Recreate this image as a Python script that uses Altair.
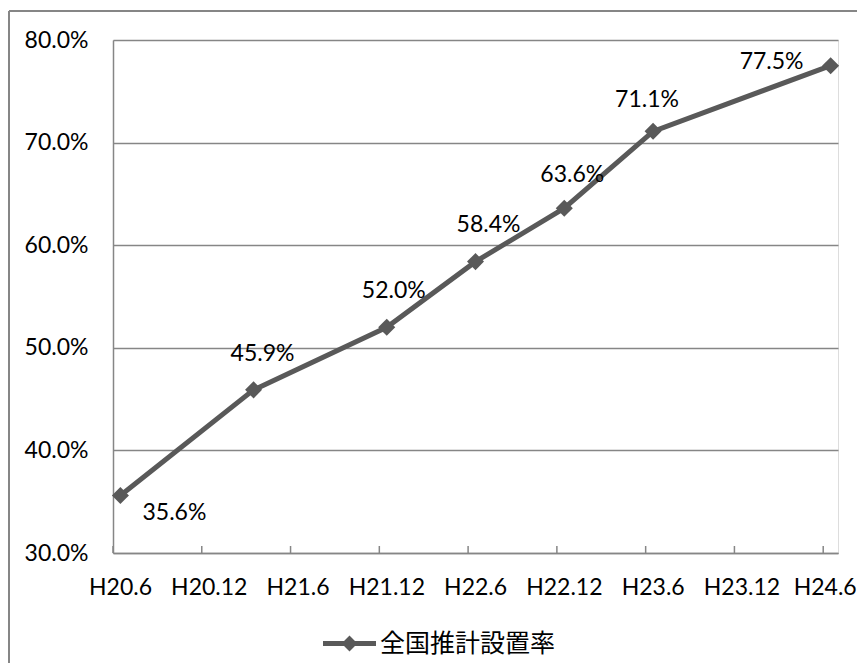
import altair as alt
import pandas as pd

# Data
series_name = "全国推計設置率"
months = [0, 9, 18, 24, 30, 36, 48]          # months since H20.6
rates = [35.6, 45.9, 52.0, 58.4, 63.6, 71.1, 77.5]
tick_months = [0, 6, 12, 18, 24, 30, 36, 42, 48]
tick_labels = ["H20.6", "H20.12", "H21.6", "H21.12", "H22.6", "H22.12",
               "H23.6", "H23.12", "H24.6"]
y_ticks = [30, 40, 50, 60, 70, 80]

df = pd.DataFrame({"month": months, "rate": rates, "series": series_name})
ticks_df = pd.DataFrame({"month": tick_months})

W, H = 725, 513
PAD = {"left": 105, "top": 32, "right": 19, "bottom": 110}
LINE = "#595959"
GRID = "#868686"
NUM_FONT = "Lato"
JP_FONT = "Noto Sans CJK JP"
FS = 23

label_js = "[" + ",".join("'%s'" % t for t in tick_labels) + "]"
last_tick = tick_months[-1]

x_scale = alt.Scale(domain=[0, 49], nice=False, zero=False)
y_scale = alt.Scale(domain=[30, 80], nice=False, zero=False)

base = alt.Chart(df).transform_calculate(xm="datum.month + 0.5")

x_enc = alt.X("xm:Q", scale=x_scale, title=None,
              axis=alt.Axis(values=tick_months, labelExpr=label_js + "[round(datum.value/6)]",
                            grid=False, ticks=False, domainColor=GRID, domainWidth=1.5,
                            labelFont=NUM_FONT, labelFontSize=FS, labelColor="black",
                            labelPadding=34, labelBaseline="middle",
                            labelAlign=alt.condition("datum.value == %d" % last_tick,
                                                     alt.value("right"), alt.value("center")),
                            labelOffset=alt.condition("datum.value == %d" % last_tick,
                                                      alt.value(33), alt.value(7)),
                            labelOverlap=False, labelFlush=False))
y_enc = alt.Y("rate:Q", scale=y_scale, title=None,
              axis=alt.Axis(values=y_ticks, labelExpr="format(datum.value, '.1f') + '%'",
                            grid=True, gridColor=GRID, gridWidth=1.5, ticks=False,
                            domainColor=GRID, domainWidth=1.5,
                            labelFont=NUM_FONT, labelFontSize=FS, labelColor="black",
                            labelPadding=25))

line = base.mark_line(strokeWidth=5).encode(
    x=x_enc, y=y_enc,
    color=alt.Color("series:N", scale=alt.Scale(range=[LINE]),
                    legend=alt.Legend(
                        title=None, orient="none", legendX=210, legendY=577,
                        symbolType="M-1,-0.09L1,-0.09L1,0.09L-1,0.09Z M0,-0.3L0.3,0L0,0.3L-0.3,0Z",
                        symbolSize=2809, symbolFillColor=LINE, symbolStrokeColor=LINE,
                        symbolStrokeWidth=0, labelFont=JP_FONT, labelFontSize=25,
                        labelColor="black", labelOffset=4, labelLimit=400)),
)

points = base.mark_point(shape="diamond", filled=True, size=290, opacity=1,
                         color=LINE).encode(x="xm:Q", y="rate:Q")

# per-point label offsets (Excel "right" label placement as drawn)
offsets = [(54, 17), (9, -36), (7, -36), (13, -37), (8, -33), (-6, -31), (-59, -4)]
labels = []
for m, (dx, dy) in zip(months, offsets):
    labels.append(
        base.transform_filter(alt.datum.month == m)
        .transform_calculate(lbl="format(datum.rate, '.1f') + '%'")
        .mark_text(dx=dx, dy=dy, font=NUM_FONT, fontSize=FS, color="black", baseline="middle")
        .encode(x="xm:Q", y="rate:Q", text="lbl:N")
    )

tick_marks = alt.Chart(ticks_df).mark_rule(color=GRID, strokeWidth=1.5).encode(
    x=alt.X("month:Q", scale=x_scale),
    y=alt.value(H), y2=alt.value(H - 7))

border_left = alt.Chart(ticks_df).mark_rule(color=GRID, strokeWidth=1.5).encode(
    x=alt.value(-104), y=alt.value(-29), y2=alt.value(H + PAD["bottom"]))
border_top = alt.Chart(ticks_df).mark_rule(color=GRID, strokeWidth=1.5).encode(
    x=alt.value(-104), x2=alt.value(W + PAD["right"]), y=alt.value(-29))

chart = alt.layer(tick_marks, line, points, *labels, border_left, border_top).properties(
    width=W, height=H, padding=PAD, autosize=alt.AutoSizeParams(type="none"),
).configure_view(stroke=None).configure(background="white")

chart.save("out.html", embed_options={"renderer": "svg", "actions": False})
